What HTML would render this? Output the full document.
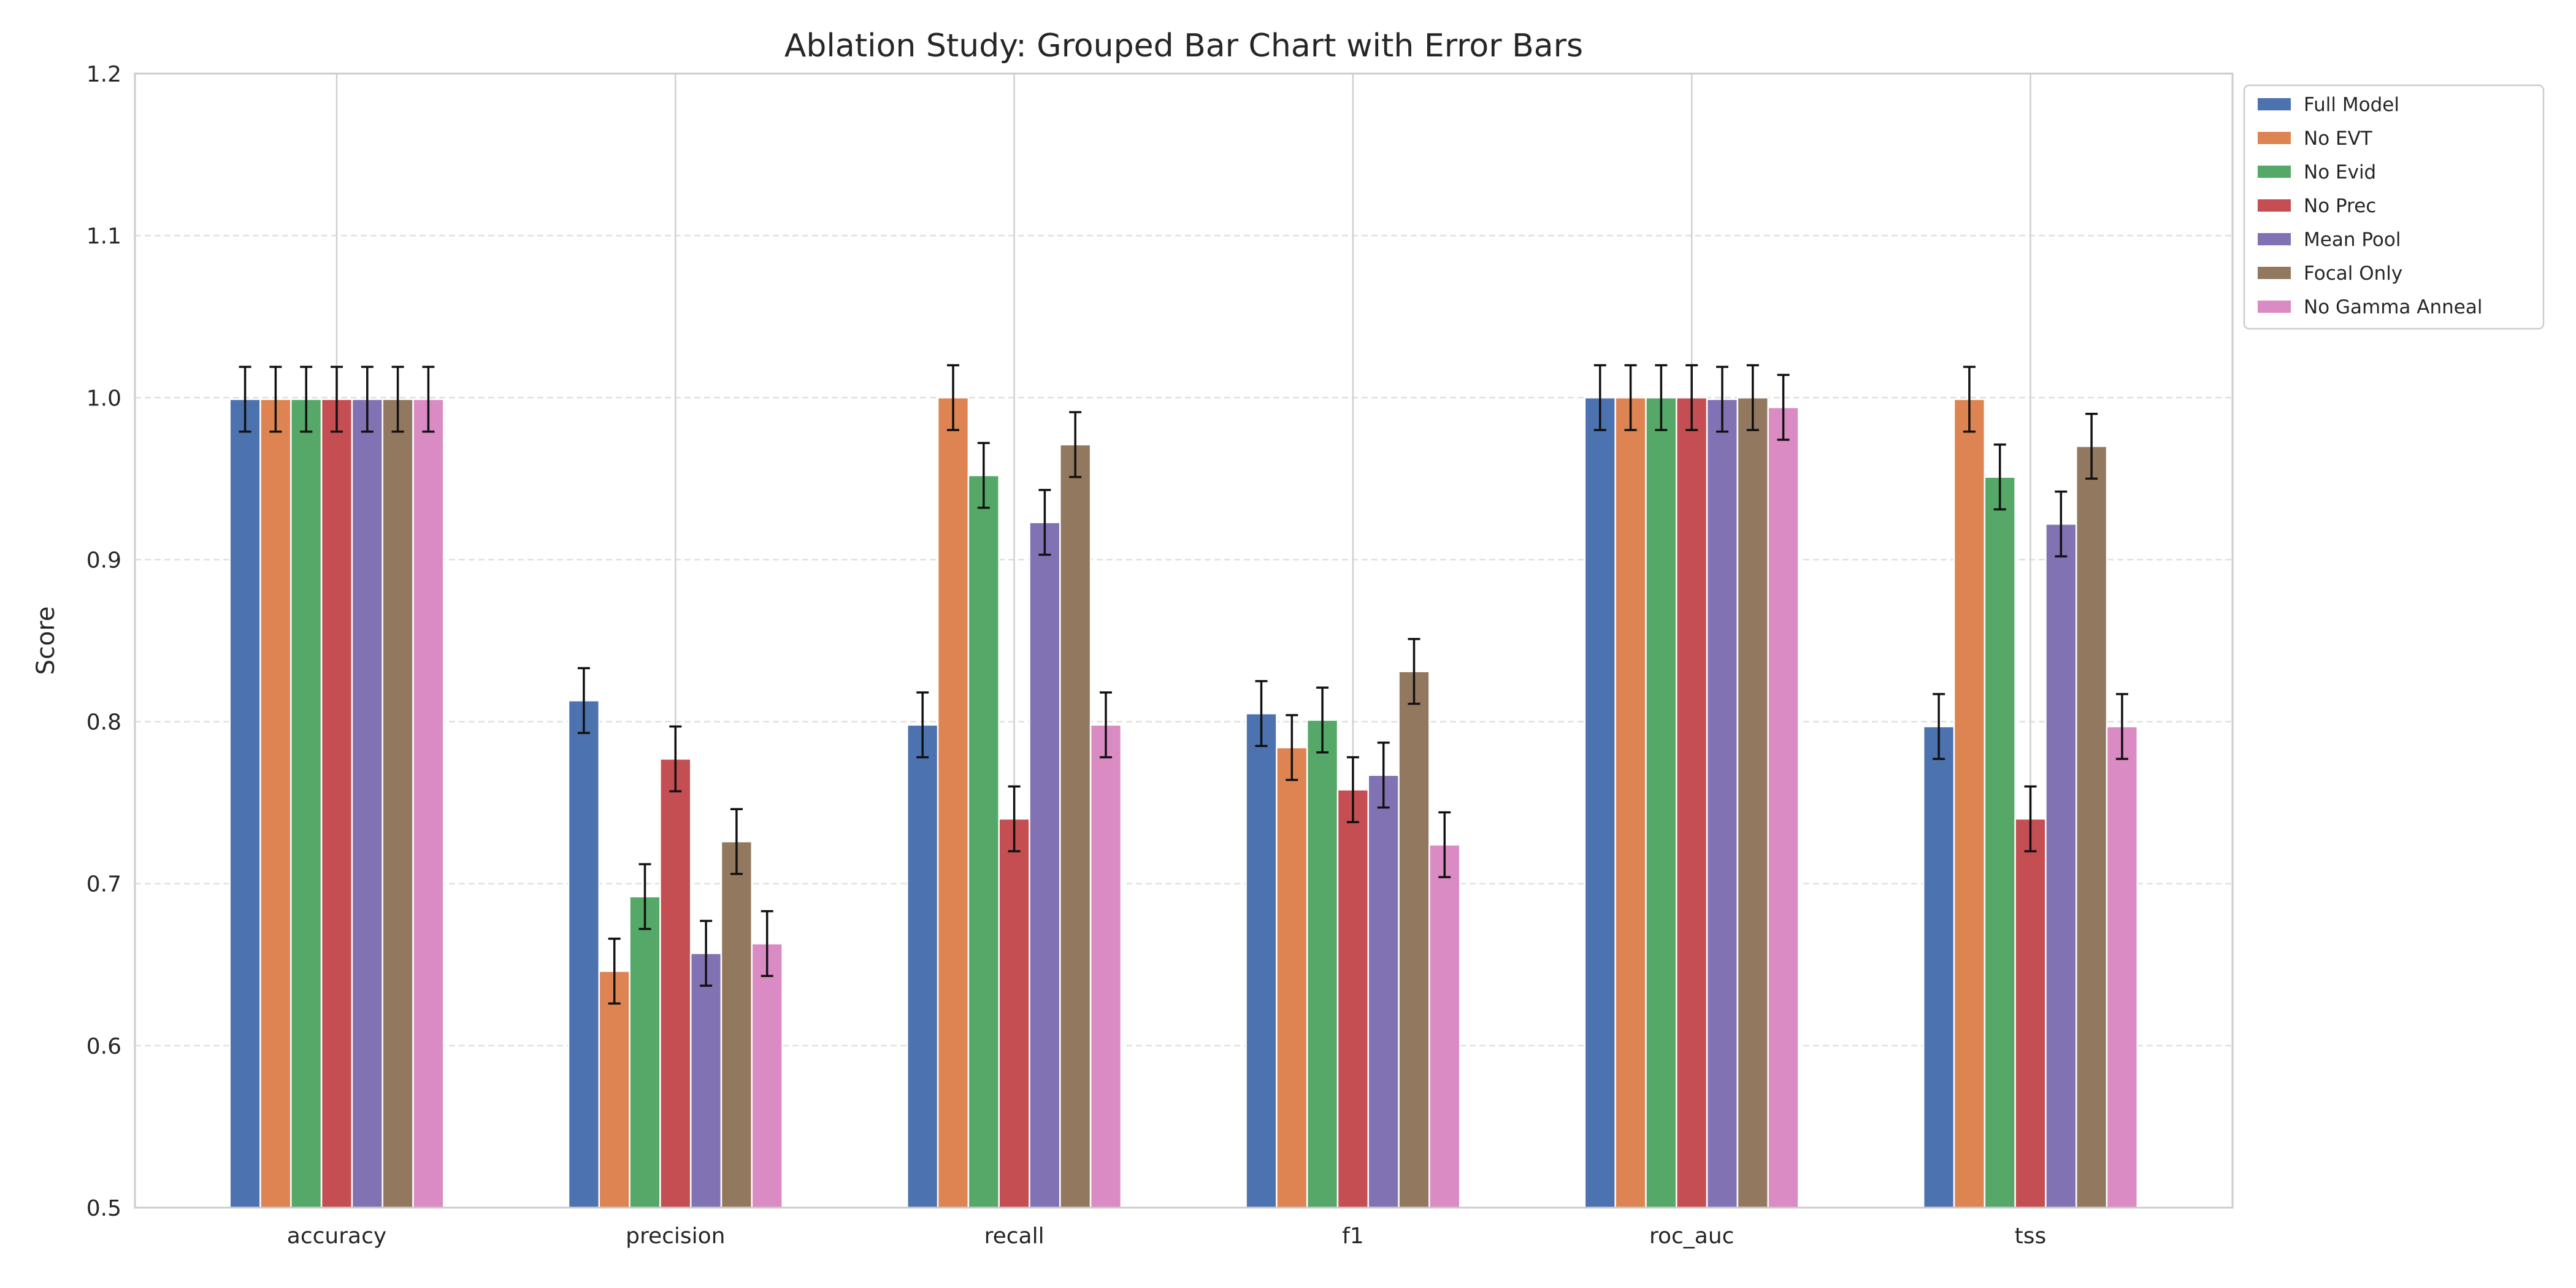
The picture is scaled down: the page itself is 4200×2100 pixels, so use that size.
<!DOCTYPE html>
<html><head><meta charset="utf-8"><style>
html,body{margin:0;padding:0;background:#fff}
svg{display:block;font-family:"DejaVu Sans","Liberation Sans",sans-serif}
</style></head><body>
<svg id="chart" width="4200" height="2100" viewBox="0 0 4200 2100" xmlns="http://www.w3.org/2000/svg">
<rect x="0" y="0" width="4200" height="2100" fill="#fff"/>
<g id="grid"></g>
<g id="bars"></g>
<g id="errs"></g>
<g id="axes"></g>
<g id="legend"></g>
</svg>
<script>
const categories = ["accuracy","precision","recall","f1","roc_auc","tss"];
const seriesNames = ["Full Model","No EVT","No Evid","No Prec","Mean Pool","Focal Only","No Gamma Anneal"];
const fullModel = [0.999,0.813,0.798,0.805,1.000,0.797];
const noEVT = [0.999,0.646,1.000,0.784,1.000,0.999];
const noEvid = [0.999,0.692,0.952,0.801,1.000,0.951];
const noPrec = [0.999,0.777,0.740,0.758,1.000,0.740];
const meanPool = [0.999,0.657,0.923,0.767,0.999,0.922];
const focalOnly = [0.999,0.726,0.971,0.831,1.000,0.970];
const noGamma = [0.999,0.663,0.798,0.724,0.994,0.797];
const errors = [0.02,0.02,0.02,0.02,0.02,0.02];
const yTicks = [0.5,0.6,0.7,0.8,0.9,1.0,1.1,1.2];
const series = [fullModel,noEVT,noEvid,noPrec,meanPool,focalOnly,noGamma];
const colors = ["#4c72b0","#dd8452","#55a868","#c44e52","#8172b3","#937860","#da8bc3"];

const L=220,R=3640,T=120,B=1969,ymin=0.5,ymax=1.2;
const y = v => B-(v-ymin)/(ymax-ymin)*(B-T);
const step=552.3;
const x = i => 549+step*i;
const bw=49.8;
const NS="http://www.w3.org/2000/svg";
function mk(tag,attrs,parent,text){const e=document.createElementNS(NS,tag);for(const k in attrs)e.setAttribute(k,attrs[k]);if(text!==undefined)e.textContent=text;parent.appendChild(e);return e;}
const grid=document.getElementById('grid'),bars=document.getElementById('bars'),errs=document.getElementById('errs'),axes=document.getElementById('axes'),legend=document.getElementById('legend');

yTicks.forEach(t=>{
  const g=mk('line',{x1:L,x2:R,y1:y(t),y2:y(t),stroke:'#e0e0e0','stroke-width':2.5,'stroke-dasharray':'10,6'},grid);
  
  
  const tl=mk('text',{x:L-22,y:y(t)+13,'text-anchor':'end','font-size':36,fill:'#262626'},axes,t.toFixed(1));
  
  
});
categories.forEach((c,i)=>{
  const g=mk('line',{x1:x(i),x2:x(i),y1:T,y2:B,stroke:'#d0d0d0','stroke-width':2.5},grid);
  
  
  const tl=mk('text',{x:x(i),y:B+58,'text-anchor':'middle','font-size':36,fill:'#262626'},axes,c);
  
  
});
series.forEach((s,j)=>{
  s.forEach((v,i)=>{
    const cx=x(i)+(j-3)*bw;
    const r=mk('rect',{x:cx-bw/2,y:y(v),width:bw,height:B-y(v),fill:colors[j],stroke:'#fff','stroke-width':2.5},bars);
    
    
    const e=errors[i],y1=y(v+e),y2=y(v-e);
    const eg=mk('path',{d:`M${cx},${y1}V${y2}M${cx-10},${y1}H${cx+10}M${cx-10},${y2}H${cx+10}`,stroke:'#111','stroke-width':3.5,fill:'none'},errs);
    
    
  });
});
const frame=mk('rect',{x:L,y:T,width:R-L,height:B-T,fill:'none',stroke:'#cccccc','stroke-width':3},axes);


const title=mk('text',{x:(L+R)/2,y:92,'text-anchor':'middle','font-size':52,fill:'#262626'},axes,'Ablation Study: Grouped Bar Chart with Error Bars');


const yl=mk('text',{x:88,y:(T+B)/2,'text-anchor':'middle','font-size':40,fill:'#262626',transform:`rotate(-90 88 ${(T+B)/2})`},axes,'Score');


const lb=mk('rect',{x:3659,y:139,width:488,height:397,rx:8,fill:'#fff',stroke:'#cccccc','stroke-width':2.5},legend);


seriesNames.forEach((n,j)=>{
  const ly=170+j*55;
  const g=mk('g',{},legend);
  
  
  mk('rect',{x:3681,y:ly-10,width:54,height:20,fill:colors[j]},g);
  mk('text',{x:3756,y:ly+11,'font-size':31,fill:'#262626'},g,n);
});
</script>
</body></html>
